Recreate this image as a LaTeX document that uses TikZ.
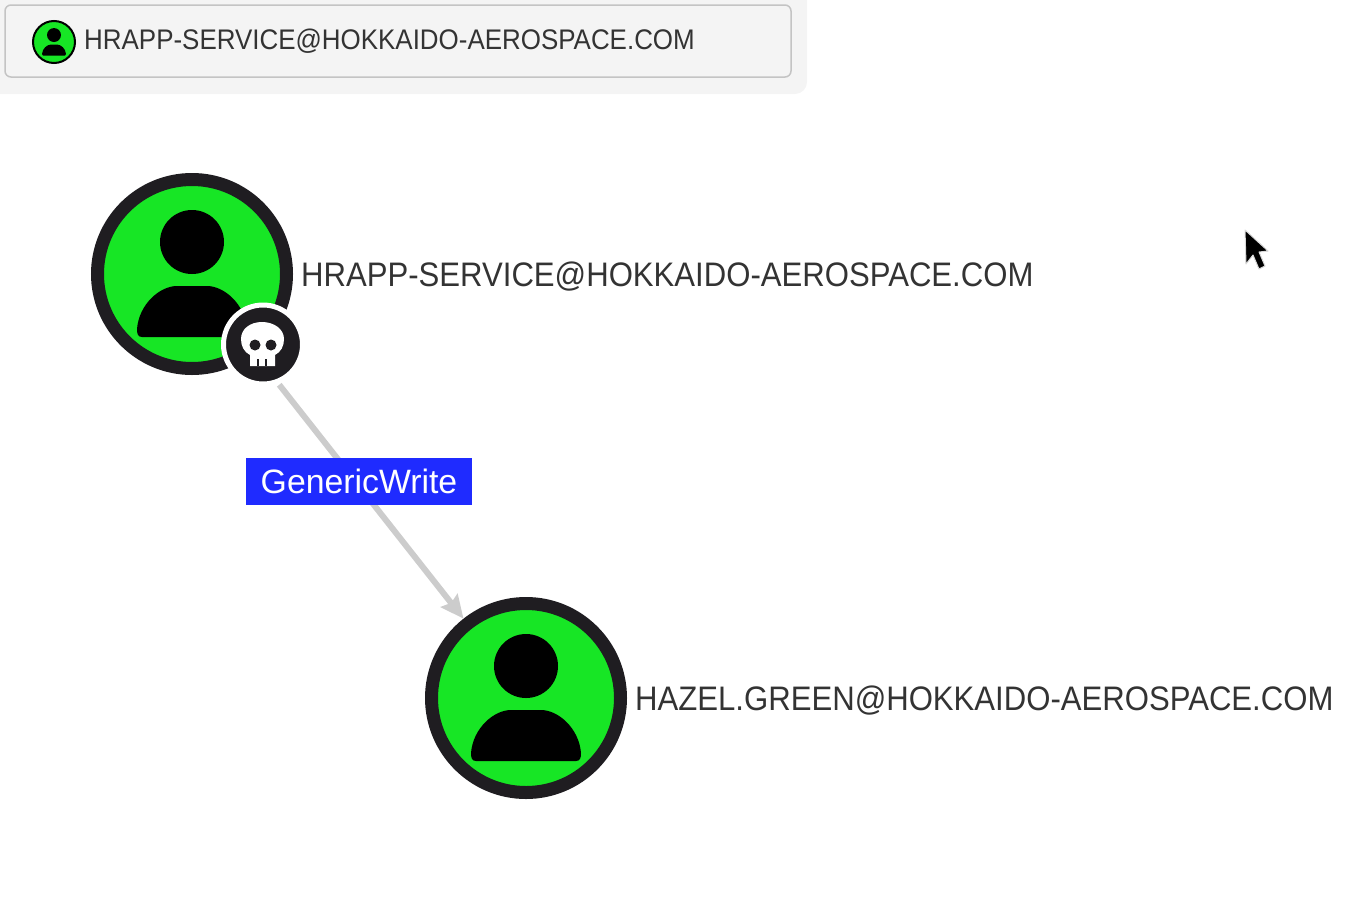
\documentclass[tikz,border=0pt]{standalone}
\usepackage{fontspec}
\setmainfont{Liberation Sans}
\newfontfamily\namefont[FakeStretch=0.915]{Liberation Sans}
\usetikzlibrary{arrows.meta,positioning}
\definecolor{usergreen}{HTML}{17E625}
\definecolor{ringdark}{HTML}{1F1D21}
\definecolor{edgegrey}{HTML}{CCCCCC}
\definecolor{labelblue}{HTML}{1F2BFF}
\definecolor{nametext}{HTML}{333333}
\definecolor{panelgrey}{HTML}{F4F4F4}
\definecolor{panelline}{HTML}{C4C4C4}
\tikzset{
	usernode/.style={circle, draw=ringdark, fill=usergreen, line width=13pt, minimum size=189pt, inner sep=0pt},
	smalluser/.style={circle, draw=black, fill=usergreen, line width=2pt, minimum size=42pt, inner sep=0pt},
	badgenode/.style={circle, draw=white, fill=ringdark, line width=5pt, minimum size=79pt, inner sep=0pt},
	namelabel/.style={inner sep=0pt, text=nametext, font=\namefont\fontsize{34}{34}\selectfont},
	edgelabel/.style={fill=labelblue, text=white, minimum width=226pt, minimum height=47pt, inner sep=0pt, font=\fontsize{33.8}{33.8}\selectfont},
	privedge/.style={-{Stealth[length=23pt,width=21pt,inset=3pt]}, draw=edgegrey, fill=edgegrey, line width=6pt},
	person/.pic={
		\fill[black] (0,-32) circle (32);
		\fill[black] (-50,63) .. controls (-54,63) and (-55,60) .. (-55,55) .. controls (-53,30) and (-32,12) .. (-15,12) -- (15,12) .. controls (32,12) and (53,30) .. (55,55) .. controls (55,60) and (54,63) .. (50,63) -- cycle;
	}
}
\begin{document}
\begin{tikzpicture}[x=1pt, y=-1pt]
	\useasboundingbox (0,0) rectangle (1364,908);

	\fill[panelgrey] (0,0) -- (807,0) -- (807,82) arc[start angle=0, end angle=90, radius=12] -- (0,94) -- cycle;
	\draw[panelline, line width=1.5pt, fill=panelgrey, rounded corners=6pt] (5,5) rectangle (791,77);
	\node[smalluser] (topicon) at (54,42) {};
	\pic[scale=0.218] at (topicon) {person};
	\node[namelabel, font=\namefont\fontsize{28.35}{28.35}\selectfont, right=8pt of topicon, yshift=1pt] (topname) {HRAPP-SERVICE@HOKKAIDO-AEROSPACE.COM};

	\node[usernode] (hrapp) at (192,274) {};
	\node[usernode] (hazel) at (526,698) {};
	\pic at (hrapp) {person};
	\pic at (hazel) {person};
	\node[namelabel, right=8pt of hrapp, yshift=-3pt] (hrappname) {HRAPP-SERVICE@HOKKAIDO-AEROSPACE.COM};
	\node[namelabel, right=8pt of hazel, yshift=-3pt] (hazelname) {HAZEL.GREEN@HOKKAIDO-AEROSPACE.COM};

	\draw[privedge, shorten <=40pt] (hrapp) -- (hazel);
	\node[edgelabel] (genericwrite) at (359,481.5) {\raisebox{1pt}{GenericWrite}};

	\node[badgenode] (skull) at (263,344.5) {};
	\fill[white] (250,366) -- (250,355) .. controls (244,352) and (241,346) .. (241,339) .. controls (241,329) and (250,322) .. (262,322) .. controls (274,322) and (284,329) .. (284,339) .. controls (284,346) and (281,352) .. (275,355) -- (275,366) -- cycle;
	\fill[ringdark] (255,345) circle (5.5) (271,345) circle (5.5);
	\draw[ringdark, line width=1.5pt] (258,359) -- (258,366) (266,359) -- (266,366);

	\draw[white!85!black, line width=1pt, line join=round, fill=black] (1245,230) -- (1246,264) -- (1253,255) -- (1259,269) -- (1265,266) -- (1259,252) -- (1268,251) -- cycle;
\end{tikzpicture}
\end{document}
